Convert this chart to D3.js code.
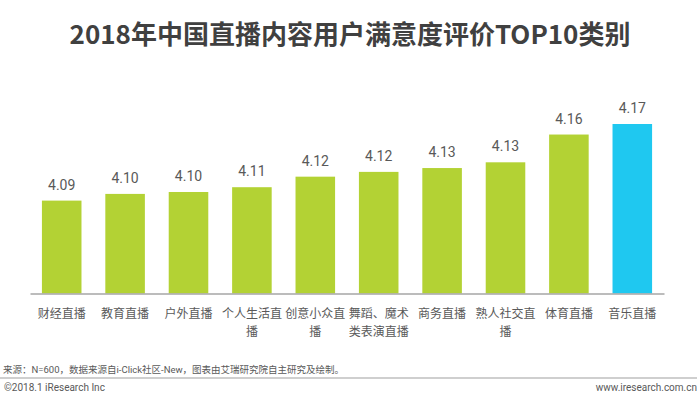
<!DOCTYPE html>
<html>
<head>
<meta charset="utf-8">
<script src="https://cdn.jsdelivr.net/npm/d3@7/dist/d3.min.js"></script>
<style>
  body { margin: 0; background: #fff; }
  text { font-family: "Noto Sans CJK SC", "Noto Sans", sans-serif; }
  text.latin { font-family: Roboto, "Noto Sans CJK SC", sans-serif; }
</style>
</head>
<body>
<div class="canvas"></div>
<script>
// chart data
const categories = ['财经直播', '教育直播', '户外直播', '个人生活直播', '创意小众直播',
  '舞蹈、魔术类表演直播', '商务直播', '熟人社交直播', '体育直播', '音乐直播'];
// bar heights (the printed labels are rounded)
const values = [4.090, 4.097, 4.099, 4.104, 4.115, 4.120, 4.124, 4.130, 4.159, 4.170];
const valueLabels = ['4.09', '4.10', '4.10', '4.11', '4.12', '4.12', '4.13', '4.13', '4.16', '4.17'];
const highlight = '音乐直播';

// dimensions
const width = 700;
const height = 394;
const axisY = 293.5;

const svg = d3.select('.canvas')
  .append('svg')
  .attr('width', width)
  .attr('height', height);

// title
svg.append('text')
  .attr('x', 350)
  .attr('y', 44)
  .attr('text-anchor', 'middle')
  .attr('font-size', 26)
  .attr('font-weight', 'bold')
  .attr('fill', '#404040')
  .text('2018年中国直播内容用户满意度评价TOP10类别');

// scales
const x = d3.scaleBand()
  .domain(categories)
  .range([30, 664])
  .paddingInner(0.376)
  .paddingOuter(0.188);

const y = d3.scaleLinear()
  .domain([3.993, 4.17])
  .range([axisY, 124]);

// bars
svg.selectAll('rect.bar')
  .data(categories)
  .enter()
  .append('rect')
  .attr('class', 'bar')
  .attr('x', d => x(d))
  .attr('y', (d, i) => y(values[i]))
  .attr('width', x.bandwidth())
  .attr('height', (d, i) => axisY - y(values[i]))
  .attr('fill', d => d === highlight ? '#1fc8f0' : '#b3d234');

// value labels
svg.selectAll('text.value')
  .data(categories)
  .enter()
  .append('text')
  .attr('class', 'value latin')
  .attr('x', d => x(d) + x.bandwidth() / 2)
  .attr('y', (d, i) => y(values[i]) - 11)
  .attr('text-anchor', 'middle')
  .attr('font-size', 14)
  .attr('fill', '#595959')
  .text((d, i) => valueLabels[i]);

// x axis (line only, labels wrapped at 5 chars)
const xAxis = d3.axisBottom(x).tickSize(0).tickFormat('');
const xAxisGroup = svg.append('g')
  .attr('transform', `translate(0, ${axisY})`)
  .call(xAxis);
xAxisGroup.select('.domain')
  .attr('stroke', '#a6a6a6')
  .attr('stroke-width', 1.5);

xAxisGroup.selectAll('.tick').each(function (d) {
  const lines = d.match(/.{1,5}/g);
  const t = d3.select(this).append('text')
    .attr('text-anchor', 'middle')
    .attr('font-size', 12)
    .attr('fill', '#595959');
  lines.forEach((line, i) => {
    t.append('tspan')
      .attr('x', 0)
      .attr('y', 24 + i * 18)
      .text(line);
  });
});

// footer
svg.append('text')
  .attr('class', 'latin')
  .attr('x', 3)
  .attr('y', 373)
  .attr('font-size', 9.5)
  .attr('fill', '#595959')
  .text('来源：N=600，数据来源自i-Click社区-New，图表由艾瑞研究院自主研究及绘制。');

svg.append('line')
  .attr('x1', 0)
  .attr('x2', 697)
  .attr('y1', 378)
  .attr('y2', 378)
  .attr('stroke', '#bfbfbf')
  .attr('stroke-width', 1.5);

svg.append('text')
  .attr('class', 'latin')
  .attr('x', 4)
  .attr('y', 391)
  .attr('font-size', 10)
  .attr('fill', '#595959')
  .text('©2018.1 iResearch Inc');

svg.append('text')
  .attr('class', 'latin')
  .attr('x', 697)
  .attr('y', 391)
  .attr('text-anchor', 'end')
  .attr('font-size', 10)
  .attr('fill', '#595959')
  .text('www.iresearch.com.cn');
</script>
</body>
</html>
